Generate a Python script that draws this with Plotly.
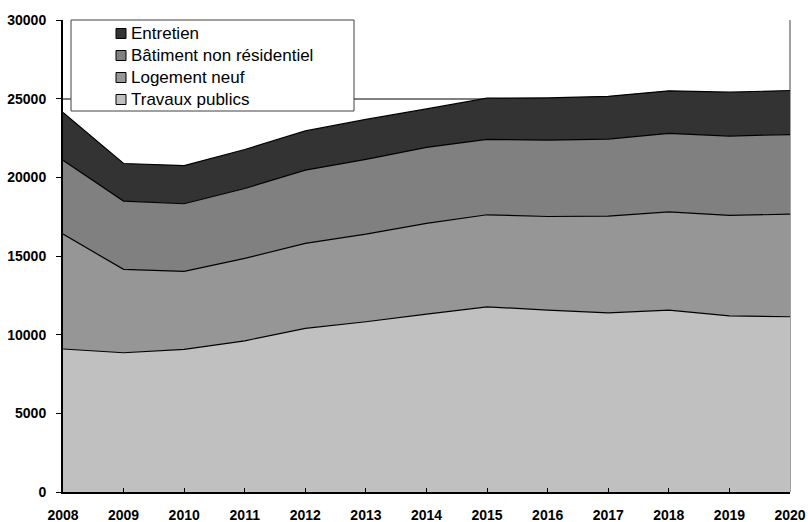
import plotly.graph_objects as go

years = list(range(2008, 2021))
travaux_publics = [9090, 8850, 9070, 9610, 10400, 10820, 11310, 11770, 11560, 11390, 11560, 11200, 11140]
logement_neuf = [7300, 5300, 4950, 5240, 5400, 5570, 5760, 5850, 5950, 6140, 6250, 6380, 6520]
batiment_non_res = [4700, 4340, 4300, 4440, 4660, 4750, 4830, 4790, 4850, 4900, 4980, 5040, 5060]
entretien = [3030, 2390, 2430, 2480, 2490, 2540, 2450, 2620, 2690, 2720, 2710, 2790, 2800]

names = ["Travaux publics", "Logement neuf", "Bâtiment non résidentiel", "Entretien"]
colors = ["#c0c0c0", "#969696", "#808080", "#333333"]
series = [travaux_publics, logement_neuf, batiment_non_res, entretien]

W, H = 808, 522
L, R, T, B = 63, 18, 20, 30
PW, PH = W - L - R, H - T - B

def px2x(px):
    return (px - L) / PW

def px2y(py):
    return (H - B - py) / PH

fig = go.Figure()
for name, col, vals in zip(names, colors, series):
    fig.add_trace(go.Scatter(
        x=years, y=vals, name=name, stackgroup="one", mode="lines",
        line=dict(color="#000000", width=1.2), fillcolor=col, showlegend=False,
    ))

shapes = []
annotations = []
# legend box
shapes.append(dict(type="rect", xref="paper", yref="paper",
                   x0=px2x(71), x1=px2x(354), y0=px2y(111), y1=px2y(20),
                   line=dict(color="#404040", width=1), fillcolor="white", layer="above"))
row_y = [33.5, 55.5, 77.5, 99.5]
for i, idx in enumerate([3, 2, 1, 0]):
    cy = row_y[i]
    shapes.append(dict(type="rect", xref="paper", yref="paper",
                       x0=px2x(116), x1=px2x(126), y0=px2y(cy + 5), y1=px2y(cy - 5),
                       line=dict(color="#000000", width=1), fillcolor=colors[idx], layer="above"))
    annotations.append(dict(xref="paper", yref="paper", x=px2x(129), y=px2y(cy),
                            xanchor="left", yanchor="middle", showarrow=False,
                            text=names[idx], font=dict(family="Liberation Sans, Arial", size=17, color="#000000")))
# right border (gray)
shapes.append(dict(type="line", xref="paper", yref="paper", x0=1, x1=1, y0=0, y1=1,
                   line=dict(color="#808080", width=1.5), layer="below"))

tick_font = dict(family="Liberation Sans, Arial", size=14, color="#000000", weight="bold")

fig.update_layout(
    width=W, height=H, autosize=False,
    margin=dict(l=L, r=R, t=T, b=B, pad=0),
    paper_bgcolor="white", plot_bgcolor="white",
    shapes=shapes, annotations=annotations,
    showlegend=False,
    xaxis=dict(range=[2008, 2020], tickmode="array", tickvals=years, ticktext=[str(y) for y in years],
               automargin=False,
               showgrid=False, zeroline=False, showline=True, linecolor="#000000", linewidth=2,
               ticks="inside", ticklen=4, tickcolor="#000000", ticklabelstandoff=9,
               tickfont=tick_font),
    yaxis=dict(range=[0, 30000], tickmode="array", tickvals=[0, 5000, 10000, 15000, 20000, 25000, 30000],
               ticktext=["0", "5000", "10000", "15000", "20000", "25000", "30000"],
               automargin=False,
               showgrid=True, gridcolor="#808080", gridwidth=1.5, zeroline=False,
               showline=True, linecolor="#000000", linewidth=2,
               ticks="outside", ticklen=5, tickcolor="#000000", ticklabelstandoff=7,
               tickfont=tick_font),
)

fig.write_html("out.html")
